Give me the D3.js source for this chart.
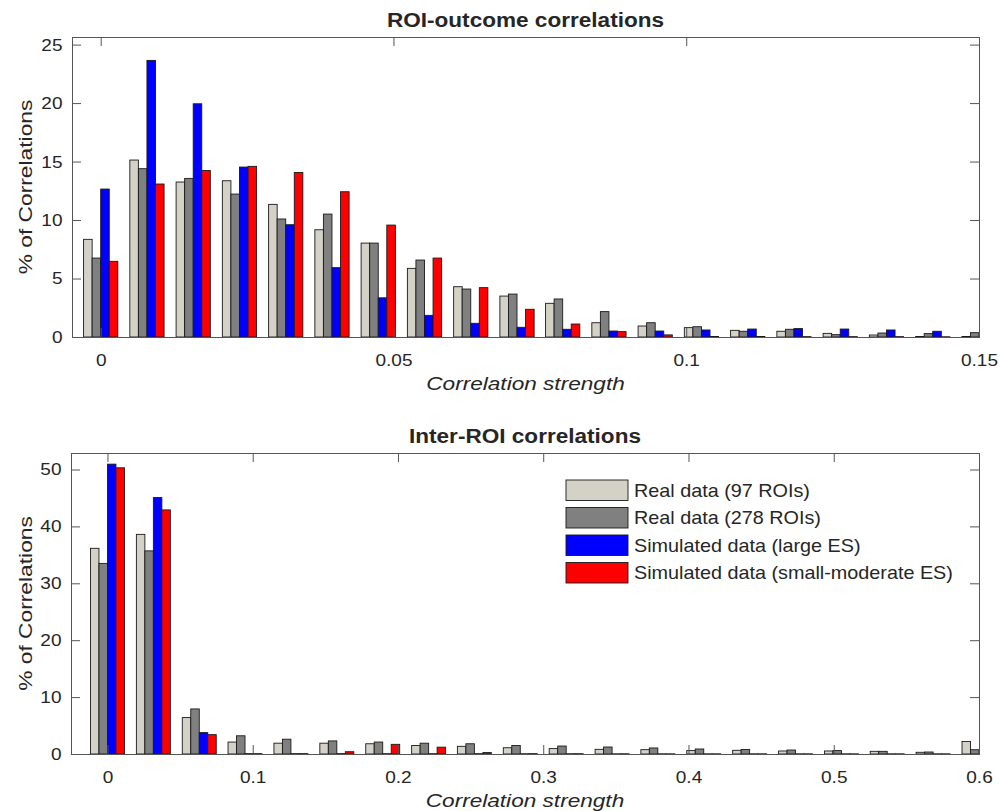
<!DOCTYPE html>
<html>
<head>
<meta charset="utf-8">
<script src="https://d3js.org/d3.v7.min.js"></script>
<style>
body { margin: 0; background: #fff; }
svg text { font-family: "Liberation Sans", Arial, sans-serif; fill: #262626; }
</style>
</head>
<body>
<svg width="1000" height="811"></svg>
<script>
// series
var seriesNames = ["Real data (97 ROIs)", "Real data (278 ROIs)", "Simulated data (large ES)", "Simulated data (small-moderate ES)"];
var seriesColors = ["#d4d1c7", "#808080", "#0000ff", "#ff0000"];

// ROI-outcome histogram (bin centres + % per series)
var roiBins = [0, 0.0079, 0.0158, 0.0237, 0.0316, 0.0395, 0.0474, 0.0553, 0.0632, 0.0711,
               0.0789, 0.0868, 0.0947, 0.1026, 0.1105, 0.1184, 0.1263, 0.1342, 0.1421, 0.15];
var roiReal97  = [8.35, 15.13, 13.25, 13.36, 11.34, 9.17, 8.03, 5.87, 4.3, 3.5, 2.88, 1.22, 0.94, 0.8, 0.57, 0.49, 0.31, 0.17, 0.04, 0.04];
var roiReal278 = [6.75, 14.39, 13.56, 12.22, 10.09, 10.51, 8.03, 6.58, 4.1, 3.67, 3.25, 2.17, 1.22, 0.88, 0.49, 0.66, 0.2, 0.34, 0.29, 0.37];
var roiSimLarge = [12.65, 23.65, 19.94, 14.53, 9.6, 5.93, 3.35, 1.85, 1.17, 0.83, 0.66, 0.51, 0.51, 0.6, 0.68, 0.72, 0.68, 0.6, 0.49, 0];
var roiSimSmall = [6.47, 13.08, 14.24, 14.59, 14.07, 12.42, 9.57, 6.75, 4.22, 2.37, 1.11, 0.46, 0.18, 0.04, 0.04, 0.03, 0.03, 0.03, 0.02, 0];
var roiXTicks = [0, 0.05, 0.1, 0.15];
var roiYTicks = [0, 5, 10, 15, 20, 25];

// Inter-ROI histogram
var interBins = [0, 0.0316, 0.0632, 0.0947, 0.1263, 0.1579, 0.1895, 0.2211, 0.2526, 0.2842,
                 0.3158, 0.3474, 0.3789, 0.4105, 0.4421, 0.4737, 0.5053, 0.5368, 0.5684, 0.6];
var interReal97  = [36.15, 38.6, 6.4, 2.1, 1.9, 1.9, 1.8, 1.5, 1.35, 1.1, 0.95, 0.82, 0.76, 0.6, 0.65, 0.53, 0.53, 0.47, 0.3, 2.2];
var interReal278 = [33.5, 35.7, 7.92, 3.2, 2.6, 2.3, 2.1, 1.9, 1.8, 1.5, 1.4, 1.23, 1.06, 0.88, 0.8, 0.7, 0.6, 0.47, 0.35, 0.75];
var interSimLarge = [50.94, 45.07, 3.76, 0.06, 0.06, 0.06, 0.05, 0.05, 0.05, 0.04, 0.04, 0.03, 0.03, 0.03, 0.03, 0.03, 0.03, 0.03, 0.03, 0];
var interSimSmall = [50.3, 42.9, 3.4, 0.06, 0.06, 0.4, 1.7, 1.2, 0.25, 0.06, 0.05, 0.04, 0.03, 0.03, 0.03, 0.03, 0.03, 0.03, 0.03, 0];
var interXTicks = [0, 0.1, 0.2, 0.3, 0.4, 0.5, 0.6];
var interYTicks = [0, 10, 20, 30, 40, 50];

var svg = d3.select("svg");

// stretch text horizontally (reference font is wider than Arial)
function widen(sel, k) {
    sel.each(function() {
        var t = d3.select(this);
        var x = +t.attr("x") || 0;
        t.attr("x", x / k).attr("transform", (t.attr("transform") || "") + " scale(" + k + ",1)");
    });
}

function drawPanel(p) {
    var x = d3.scaleLinear().domain(p.xDomain).range([p.left, p.right]);
    var y = d3.scaleLinear().domain([0, p.yMax]).range([p.bottom, p.top]);

    var clipId = "clip" + p.id;
    svg.append("clipPath").attr("id", clipId)
        .append("rect")
        .attr("x", p.left).attr("y", p.top)
        .attr("width", p.right - p.left).attr("height", p.bottom - p.top);

    // bars: 4 adjacent bars per bin
    var step = p.bins[1] - p.bins[0];
    var barW = step * 0.185;
    var rows = p.bins.map(function(b, i) {
        return p.series.map(function(s, j) { return {bin: b, k: j, value: s[i]}; });
    });

    svg.append("g")
        .attr("clip-path", "url(#" + clipId + ")")
        .selectAll("g")
        .data(rows)
        .enter().append("g")
        .selectAll("rect")
        .data(function(d) { return d; })
        .enter().append("rect")
        .attr("x", function(d) { return x(d.bin - 2 * barW + d.k * barW); })
        .attr("y", function(d) { return y(d.value); })
        .attr("width", function(d) { return x(d.bin + barW) - x(d.bin); })
        .attr("height", function(d) { return y(0) - y(d.value); })
        .attr("fill", function(d) { return seriesColors[d.k]; })
        .attr("stroke", "#1a1a1a")
        .attr("stroke-width", 0.9);

    // axes, ticks pointing inwards on all four sides
    var fmt = function(d) { return String(d); };
    var ax = [
        svg.append("g").attr("transform", "translate(0," + p.bottom + ")")
            .call(d3.axisBottom(x).tickValues(p.xTicks).tickFormat(fmt).tickSizeInner(-9).tickSizeOuter(0).tickPadding(17)),
        svg.append("g").attr("transform", "translate(0," + p.top + ")")
            .call(d3.axisTop(x).tickValues(p.xTicks).tickFormat("").tickSizeInner(-9).tickSizeOuter(0)),
        svg.append("g").attr("transform", "translate(" + p.left + ",0)")
            .call(d3.axisLeft(y).tickValues(p.yTicks).tickFormat(fmt).tickSizeInner(-9).tickSizeOuter(0).tickPadding(9.5)),
        svg.append("g").attr("transform", "translate(" + p.right + ",0)")
            .call(d3.axisRight(y).tickValues(p.yTicks).tickFormat("").tickSizeInner(-9).tickSizeOuter(0))
    ];
    ax.forEach(function(a) {
        a.attr("font-family", null).attr("font-size", 17).attr("color", "#262626");
        a.select(".domain").remove();
        a.selectAll("line").attr("stroke", "#555");
        widen(a.selectAll("text"), 1.12);
    });

    svg.append("rect")
        .attr("x", p.left + 0.5).attr("y", p.top + 0.5)
        .attr("width", p.right - p.left).attr("height", p.bottom - p.top)
        .attr("fill", "none").attr("stroke", "#555").attr("stroke-width", 1);

    var cx = (p.left + p.right) / 2;
    svg.append("text")
        .attr("x", cx).attr("y", p.top - 10)
        .attr("text-anchor", "middle")
        .attr("font-size", 21).attr("font-weight", "bold").attr("fill", "#000")
        .text(p.title)
        .call(widen, 1.075);

    svg.append("text")
        .attr("x", cx).attr("y", p.bottom + 53)
        .attr("text-anchor", "middle")
        .attr("font-size", 19).attr("font-style", "italic")
        .text("Correlation strength")
        .call(widen, 1.19);

    svg.append("text")
        .attr("transform", "translate(31.5," + ((p.top + p.bottom) / 2) + ") rotate(-90)")
        .attr("text-anchor", "middle")
        .attr("font-size", 19)
        .text("% of Correlations")
        .call(widen, 1.2);
}

drawPanel({
    id: 1, left: 72, right: 979, top: 37, bottom: 337,
    xDomain: [-0.0049, 0.15], yMax: 25.65,
    bins: roiBins, series: [roiReal97, roiReal278, roiSimLarge, roiSimSmall],
    xTicks: roiXTicks, yTicks: roiYTicks,
    title: "ROI-outcome correlations"
});

drawPanel({
    id: 2, left: 71, right: 979, top: 453, bottom: 754,
    xDomain: [-0.0251, 0.6], yMax: 52.9,
    bins: interBins, series: [interReal97, interReal278, interSimLarge, interSimSmall],
    xTicks: interXTicks, yTicks: interYTicks,
    title: "Inter-ROI correlations"
});

// legend (no box)
var legend = svg.append("g")
    .selectAll("g")
    .data(seriesNames)
    .enter().append("g")
    .attr("transform", function(d, i) { return "translate(566," + (480 + i * 27.5) + ")"; });

legend.append("rect")
    .attr("width", 62).attr("height", 20.5)
    .attr("fill", function(d, i) { return seriesColors[i]; })
    .attr("stroke", "#1a1a1a").attr("stroke-width", 0.9);

legend.append("text")
    .attr("x", 68).attr("y", 17)
    .attr("font-size", 18)
    .text(function(d) { return d; })
    .call(widen, 1.1);
</script>
</body>
</html>
